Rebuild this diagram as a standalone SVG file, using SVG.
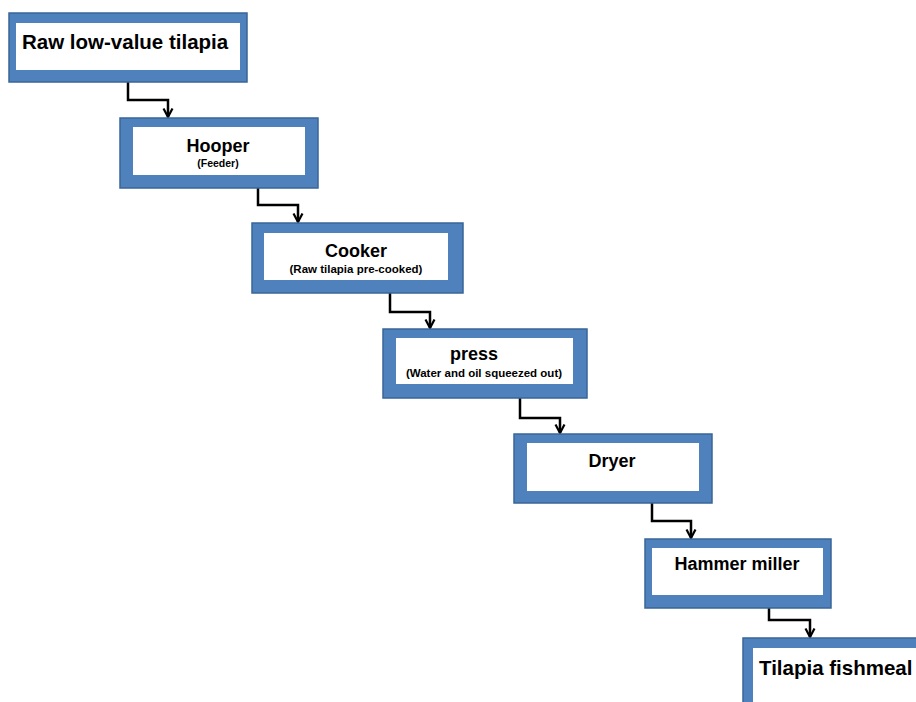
<svg xmlns="http://www.w3.org/2000/svg" width="916" height="702" viewBox="0 0 916 702">
<defs>
<style>
.outer{fill:#4F81BD;stroke:#3A6598;stroke-width:1.5}
.inner{fill:#FFFFFF}
.t{font-family:"Liberation Sans",Arial,sans-serif;font-weight:bold;fill:#000}
.big{font-size:20.5px}
.mid{font-size:18px;text-anchor:middle}
.sm{font-size:11.5px;text-anchor:middle}
.conn{fill:none;stroke:#000;stroke-width:2.5;stroke-linejoin:miter}
</style>
<marker id="arr" viewBox="0 0 12 12" refX="10" refY="6" markerWidth="12" markerHeight="12" markerUnits="userSpaceOnUse" orient="auto">
<path d="M1.5,1.5 L10,6 L1.5,10.5" fill="none" stroke="#000" stroke-width="2.2"/>
</marker>
</defs>
<rect width="916" height="702" fill="#FFFFFF"/>
<g id="connectors">
<path class="conn" d="M128,82 V100 H168 V117" marker-end="url(#arr)"/>
<path class="conn" d="M258,188 V205 H298 V222" marker-end="url(#arr)"/>
<path class="conn" d="M390,293 V312 H430 V328" marker-end="url(#arr)"/>
<path class="conn" d="M520,398 V418 H560 V433" marker-end="url(#arr)"/>
<path class="conn" d="M652,503 V521 H691 V538" marker-end="url(#arr)"/>
<path class="conn" d="M769,608 V620 H810 V637" marker-end="url(#arr)"/>
</g>
<g id="raw">
<rect class="outer" x="9" y="13" width="238" height="69"/>
<rect class="inner" x="16" y="23" width="224" height="47"/>
<text class="t big" x="22" y="49">Raw low-value tilapia</text>
</g>
<g id="hooper">
<rect class="outer" x="120" y="118" width="198" height="70"/>
<rect class="inner" x="133" y="127" width="172" height="48"/>
<text class="t mid" x="218" y="152">Hooper</text>
<text class="t sm" x="218" y="167" style="font-size:10.5px">(Feeder)</text>
</g>
<g id="cooker">
<rect class="outer" x="252" y="223" width="211" height="70"/>
<rect class="inner" x="264" y="233" width="184" height="47"/>
<text class="t mid" x="356" y="257">Cooker</text>
<text class="t sm" x="356" y="273">(Raw tilapia pre-cooked)</text>
</g>
<g id="press">
<rect class="outer" x="383" y="329" width="204" height="69"/>
<rect class="inner" x="396" y="338" width="177" height="46"/>
<text class="t mid" x="474" y="360">press</text>
<text class="t sm" x="484" y="377">(Water and oil squeezed out)</text>
</g>
<g id="dryer">
<rect class="outer" x="514" y="434" width="198" height="69"/>
<rect class="inner" x="527" y="443" width="172" height="48"/>
<text class="t mid" x="612" y="467">Dryer</text>
</g>
<g id="hammer">
<rect class="outer" x="645" y="539" width="186" height="69"/>
<rect class="inner" x="652" y="548" width="171" height="47"/>
<text class="t mid" x="737" y="570">Hammer miller</text>
</g>
<g id="fishmeal">
<rect class="outer" x="743" y="638" width="190" height="80"/>
<rect class="inner" x="753" y="648" width="175" height="70"/>
<text class="t big" x="759" y="675">Tilapia fishmeal</text>
</g>
</svg>
